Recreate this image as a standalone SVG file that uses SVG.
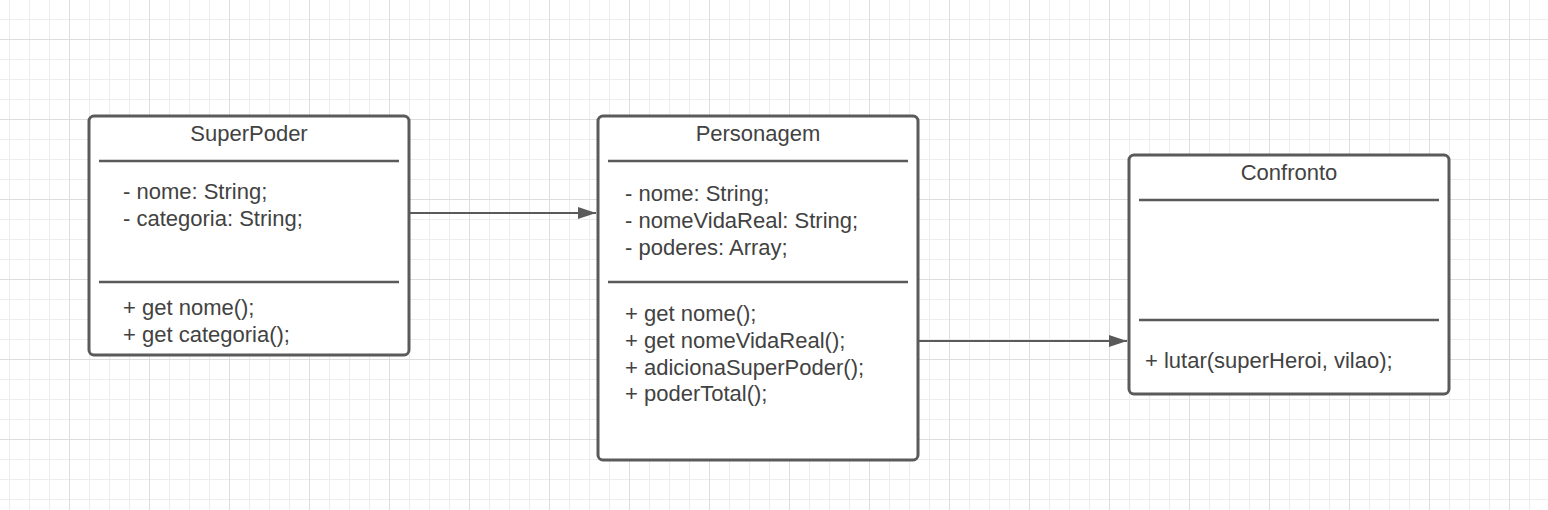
<svg xmlns="http://www.w3.org/2000/svg" width="1548" height="510" viewBox="0 0 1548 510">
<style>
.box{fill:#ffffff;stroke:#5a5a5a;stroke-width:3}
.div{stroke:#5a5a5a;stroke-width:2.5}
.t{font-family:"Liberation Sans",Arial,sans-serif;font-size:22px;fill:#424242}
.c{text-anchor:middle}
.conn{stroke:#5a5a5a;stroke-width:2;fill:none}
</style>
<defs>
<pattern id="grid" patternUnits="userSpaceOnUse" x="69" y="39" width="80" height="80">
<rect x="0" y="0" width="80" height="80" fill="#ffffff"/>
<rect x="20" y="0" width="1" height="80" fill="#ededed"/>
<rect x="40" y="0" width="1" height="80" fill="#ededed"/>
<rect x="60" y="0" width="1" height="80" fill="#ededed"/>
<rect x="0" y="20" width="80" height="1" fill="#ededed"/>
<rect x="0" y="40" width="80" height="1" fill="#ededed"/>
<rect x="0" y="60" width="80" height="1" fill="#ededed"/>
<rect x="0" y="0" width="1" height="80" fill="#dddddd"/>
<rect x="0" y="0" width="80" height="1" fill="#dddddd"/>
</pattern>
<marker id="arr" markerUnits="userSpaceOnUse" markerWidth="20" markerHeight="14" refX="18" refY="6" orient="auto">
<path d="M0,0 L18,6 L0,12 Z" fill="#5a5a5a"/>
</marker>
</defs>
<rect x="0" y="0" width="1548" height="510" fill="url(#grid)"/>

<g id="connectors">
<line class="conn" x1="410" y1="213" x2="596" y2="213" marker-end="url(#arr)"/>
<line class="conn" x1="919" y1="341" x2="1127" y2="341" marker-end="url(#arr)"/>
</g>

<g id="SuperPoder">
<rect class="box" x="89" y="116" width="320" height="239" rx="5"/>
<text class="t c" x="249" y="141">SuperPoder</text>
<line class="div" x1="99" y1="161" x2="399" y2="161"/>
<text class="t" x="123" y="199">- nome: String;</text>
<text class="t" x="123" y="226">- categoria: String;</text>
<line class="div" x1="99" y1="282" x2="399" y2="282"/>
<text class="t" x="123" y="315">+ get nome();</text>
<text class="t" x="123" y="342">+ get categoria();</text>
</g>

<g id="Personagem">
<rect class="box" x="598" y="116" width="320" height="344" rx="5"/>
<text class="t c" x="758" y="141">Personagem</text>
<line class="div" x1="608" y1="161" x2="908" y2="161"/>
<text class="t" x="625" y="201">- nome: String;</text>
<text class="t" x="625" y="228">- nomeVidaReal: String;</text>
<text class="t" x="625" y="255">- poderes: Array;</text>
<line class="div" x1="608" y1="282" x2="908" y2="282"/>
<text class="t" x="625" y="321">+ get nome();</text>
<text class="t" x="625" y="348">+ get nomeVidaReal();</text>
<text class="t" x="625" y="375">+ adicionaSuperPoder();</text>
<text class="t" x="625" y="401">+ poderTotal();</text>
</g>

<g id="Confronto">
<rect class="box" x="1129" y="155" width="320" height="239" rx="5"/>
<text class="t c" x="1289" y="180">Confronto</text>
<line class="div" x1="1139" y1="200" x2="1439" y2="200"/>
<line class="div" x1="1139" y1="320" x2="1439" y2="320"/>
<text class="t" x="1145" y="368">+ lutar(superHeroi, vilao);</text>
</g>
</svg>
